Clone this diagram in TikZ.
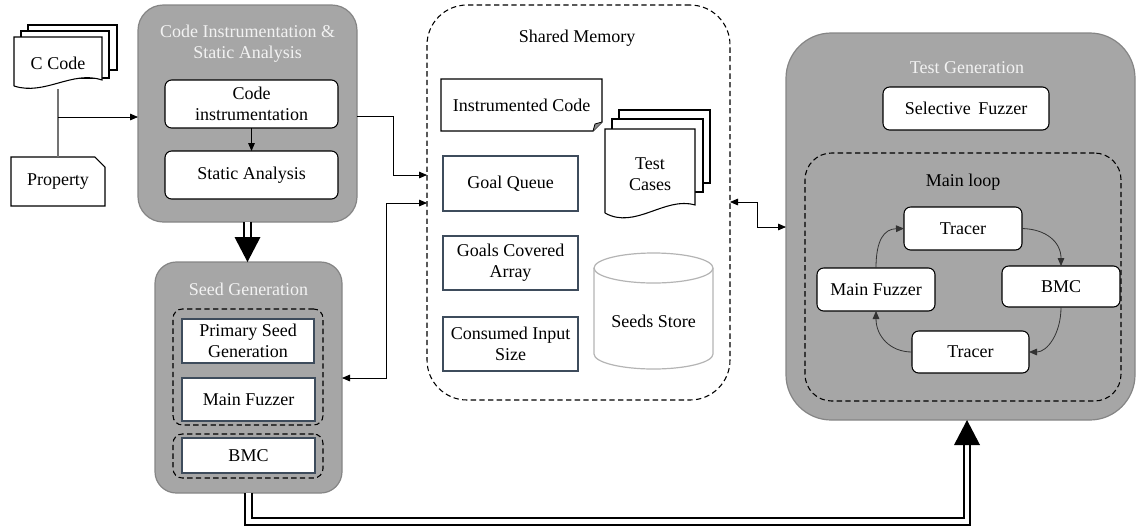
\documentclass[tikz,border=0pt]{standalone}
\usepackage{fontspec}
\setmainfont{Liberation Serif}
\usetikzlibrary{arrows.meta,calc}
\definecolor{boxgray}{HTML}{A6A6A6}
\definecolor{boxedge}{HTML}{858585}
\definecolor{titlegray}{HTML}{F2F2F2}
\definecolor{slate}{HTML}{3E4C5C}
\definecolor{storegray}{HTML}{B4B4B4}
\newcommand\placebox[7]{%
  \pgfmathsetmacro\pbw{(#4-#2)*0.75}%
  \pgfmathsetmacro\pbh{(#5-#3)*0.75}%
  \node[#6,minimum width=\pbw pt,minimum height=\pbh pt] (#1) at ({(#2+#4)/2},{(#3+#5)/2}) {#7};}
\begin{document}
\begin{tikzpicture}[x=0.75pt,y=-0.75pt,
  font=\fontsize{13.5}{15.5}\selectfont,
  base/.style={outer sep=0pt,inner sep=0pt,align=center},
  graybox/.style={base,draw=boxedge,fill=boxgray,line width=0.9pt},
  whitebox/.style={base,draw=black,fill=white,line width=0.8pt,rounded corners=5pt},
  slatebox/.style={base,draw=slate,fill=white,line width=1pt},
  dashbox/.style={base,draw=black,dash pattern=on 4pt off 2.5pt,line width=0.8pt},
  sheet/.style={draw=black,fill=white,line width=0.8pt},
  title/.style={text=titlegray,align=center},
  plain/.style={align=center},
  link/.style={line width=0.6pt,-{Triangle[length=6pt,width=5pt]}},
  dlink/.style={line width=0.6pt,{Triangle[length=6pt,width=5pt]}-{Triangle[length=6pt,width=5pt]}},
  dbl/.style={line width=1.5pt,double=white,double distance=3.6pt},
  thin/.style={line width=0.6pt,draw=black!80,-{Triangle[length=6pt,width=5pt]}}
]
\useasboundingbox (0,0) rectangle (1137,526);

% ---------- Gray containers ----------
\placebox{ci}{138}{5}{357}{222}{graybox,rounded corners=19pt}{}
\placebox{seedgen}{155}{262}{342}{493}{graybox,rounded corners=16pt}{}
\placebox{testgen}{786}{33}{1135}{420}{graybox,rounded corners=34pt}{}
\placebox{shared}{427}{5}{730}{400}{dashbox,rounded corners=30pt}{}

\node[title] (cititle) at (247.5,43.5) {Code Instrumentation \&\\Static Analysis};
\node[title] (sgtitle) at (248.5,289) {Seed Generation};
\node[title] (tgtitle) at (967,68) {Test Generation};
\node[plain] (smtitle) at (577,38) {Shared Memory};

% ---------- Code instrumentation ----------
\placebox{codeinstr}{165}{80}{338}{128}{whitebox}{Code\\instrumentation}
\placebox{static}{165}{151}{338}{199}{whitebox}{Static Analysis}

% ---------- Seed generation ----------
\placebox{dashA}{173}{309}{323}{425}{dashbox,rounded corners=7pt}{}
\placebox{dashB}{173}{434}{323}{478}{dashbox,rounded corners=7pt}{}
\placebox{primary}{182}{319}{314}{363}{slatebox}{Primary Seed\\Generation}
\placebox{mfA}{182}{378}{315}{421}{slatebox}{Main Fuzzer}
\placebox{bmcA}{182}{438}{315}{473}{slatebox}{BMC}

% ---------- Inputs ----------
\draw[sheet] (28,25) rectangle (117,70);
\draw[sheet] (21,31) rectangle (109,78);
\draw[sheet] (14,86) -- (14,37) -- (102,37) -- (102,80)
  .. controls (72,70) and (45,96) .. (14,86);
\node[plain] (ccode) at (58,63) {C Code};
\coordinate (ccb) at (58,89);

\draw[sheet] (11,206) -- (11,157) -- (95,157) -- (105,167) -- (105,206) -- cycle;
\placebox{prop}{11}{157}{105}{206}{base}{Property}

% ---------- Shared memory contents ----------
\draw[sheet] (441,79) -- (602,79) -- (602,122) -- (593,131) -- (441,131) -- cycle;
\fill[black!45] (602,122) -- (595,124) -- (593,131) -- cycle;
\draw[line width=0.6pt] (602,122) -- (595,124) -- (593,131);
\placebox{instcode}{441}{79}{602}{131}{base}{Instrumented Code}

\placebox{goalq}{443}{156}{578}{211}{slatebox}{Goal Queue}
\placebox{gca}{443}{236}{578}{290}{slatebox}{Goals Covered\\Array}
\placebox{cis}{443}{317}{578}{371}{slatebox}{Consumed Input\\Size}

\draw[sheet] (619,110) rectangle (710,183);
\draw[sheet] (612,119) rectangle (703,192);
\draw[sheet] (605,213) -- (605,129) -- (695,129) -- (695,205)
  .. controls (665,196) and (635,230) .. (605,213);
\node[plain] (testcases) at (650,174) {Test\\Cases};

\draw[draw=storegray,fill=white,line width=0.9pt] (594,268) -- (594,354)
  arc[start angle=180,end angle=0,x radius=59.5,y radius=15] -- (713,268);
\draw[draw=storegray,fill=white,line width=0.9pt] (653.5,268) ellipse[x radius=59.5,y radius=15];
\node[plain] (seeds) at (653.5,321) {Seeds Store};

% ---------- Test generation ----------
\placebox{selfuzz}{883}{87}{1049}{130}{whitebox}{Selective\, Fuzzer}
\placebox{mainloop}{805}{153}{1121}{401}{dashbox,rounded corners=20pt}{}
\node[plain] (mltitle) at (963,182) {Main loop};
\placebox{tracerA}{904}{207}{1022}{250}{whitebox}{Tracer}
\placebox{bmcB}{1002}{266}{1120}{307}{whitebox}{BMC}
\placebox{tracerB}{912}{331}{1029}{373}{whitebox}{Tracer}
\placebox{mfB}{817}{268}{935}{311}{whitebox}{Main Fuzzer}

% ---------- Connectors ----------
\draw[line width=0.8pt,draw=black!55] (ccb) -- (prop.north);
\coordinate (jn) at (58,117);
\draw[link] (jn) -- (ci.west |- jn);
\draw[link] (codeinstr) -- (static);

\draw[link] (ci.east |- 0,116) -| (393,175) -- (shared.west |- 0,175);
\draw[dlink] (shared.west |- 0,203) -| (386,378) -- (seedgen.east |- 0,378);
\draw[dlink] (shared.east |- 0,202) -| (757,227) -- (testgen.west |- 0,227);

\draw[thin] (mfB.north) .. controls (876,240) and (884,229) .. (tracerA.west);
\draw[thin] (tracerA.east) .. controls (1046,229) and (1061,242) .. (bmcB.north);
\draw[thin] (bmcB.south) .. controls (1061,334) and (1047,352) .. (tracerB.east);
\draw[thin] (tracerB.west) .. controls (890,352) and (876,336) .. (mfB.south);

% double arrows
\draw[dbl] (ci.south) -- ($(ci.south |- seedgen.north)+(0,-24)$);
\fill ($(ci.south |- seedgen.north)+(-13,-25)$) -- ($(ci.south |- seedgen.north)+(13,-25)$) -- (ci.south |- seedgen.north) -- cycle;

\coordinate (tgin) at ($(testgen.south)+(6.5,0)$);
\draw[dbl] (seedgen.south) -- (seedgen.south |- 0,521.5) -| ($(tgin)+(0,24)$);
\fill ($(tgin)+(-13,25)$) -- ($(tgin)+(13,25)$) -- (tgin) -- cycle;
\end{tikzpicture}
\end{document}
